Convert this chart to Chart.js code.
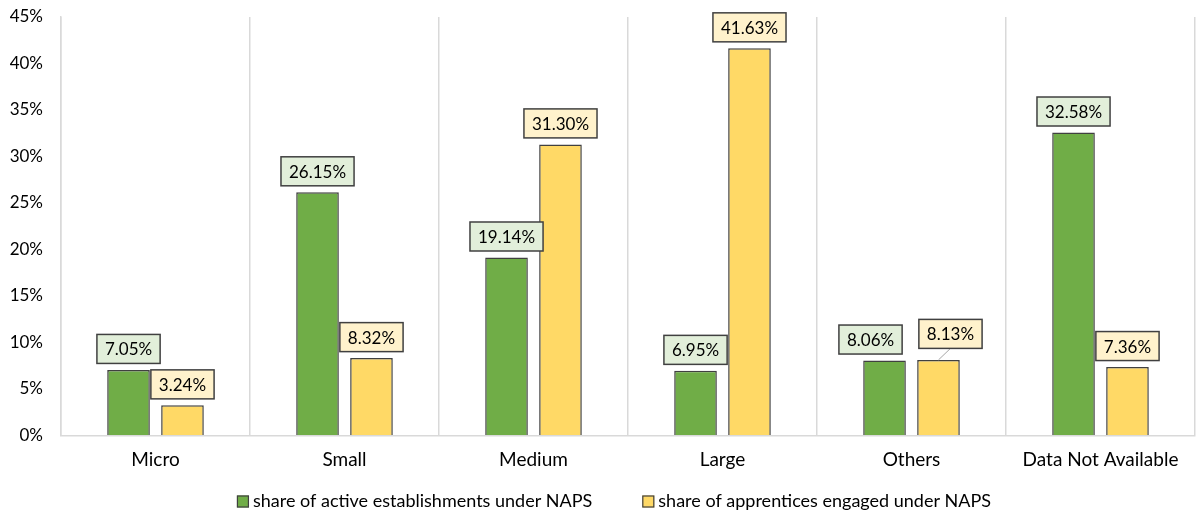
<!DOCTYPE html>
<html>
<head>
<meta charset="utf-8">
<script src="https://cdn.jsdelivr.net/npm/chart.js@4/dist/chart.umd.min.js"></script>
<style>
  html, body { margin: 0; padding: 0; background: #ffffff; }
  #wrap { width: 1197px; height: 514px; }
</style>
</head>
<body>
<div id="wrap"><canvas id="chart" width="1197" height="514"></canvas></div>
<script>
// Establishment size categories
const categories = ['Micro', 'Small', 'Medium', 'Large', 'Others', 'Data Not Available'];

// Share of active establishments under NAPS (%)
const establishmentsShare = [7.05, 26.15, 19.14, 6.95, 8.06, 32.58];

// Share of apprentices engaged under NAPS (%)
const apprenticesShare = [3.24, 8.32, 31.30, 41.63, 8.13, 7.36];

// Value axis ticks (%)
const yTicks = [0, 5, 10, 15, 20, 25, 30, 35, 40, 45];

const seriesNames = ['share of active establishments under NAPS', 'share of apprentices engaged under NAPS'];

// Manual nudges for value callouts that would otherwise crowd each other
const calloutShift = [
  [null, null, null, null, { dx: -14, dy: 0 }, null],
  [null, null, null, null, { dx: 12, dy: -5, leader: true }, null]
];

const FONT = 'Lato, "Open Sans", "DejaVu Sans", sans-serif';

// Boxed value labels above each bar
const calloutPlugin = {
  id: 'valueCallouts',
  afterDatasetsDraw(chart) {
    const ctx = chart.ctx;
    ctx.save();
    ctx.font = '17px ' + FONT;
    ctx.textAlign = 'center';
    ctx.textBaseline = 'middle';
    chart.data.datasets.forEach((ds, di) => {
      const meta = chart.getDatasetMeta(di);
      meta.data.forEach((bar, i) => {
        const text = ds.data[i].toFixed(2) + '%';
        const shift = calloutShift[di][i] || { dx: 0, dy: 0 };
        const w = ctx.measureText(text).width + 16;
        const h = 29;
        const cx = bar.x + shift.dx;
        const bottom = bar.y - 6.5 + shift.dy;
        const top = bottom - h;
        if (shift.leader) {
          ctx.strokeStyle = '#a6a6a6';
          ctx.lineWidth = 1;
          ctx.beginPath();
          ctx.moveTo(cx, bottom);
          ctx.lineTo(bar.x, bar.y);
          ctx.stroke();
        }
        ctx.fillStyle = ds.calloutFill;
        ctx.fillRect(cx - w / 2, top, w, h);
        ctx.strokeStyle = '#404040';
        ctx.lineWidth = 1.5;
        ctx.strokeRect(cx - w / 2, top, w, h);
        ctx.fillStyle = '#000000';
        ctx.fillText(text, cx, top + h / 2 + 1);
      });
    });
    ctx.restore();
  }
};

// Series key below the category axis
const keyPlugin = {
  id: 'seriesKey',
  afterDraw(chart) {
    const ctx = chart.ctx;
    ctx.save();
    ctx.font = '18px ' + FONT;
    ctx.textBaseline = 'middle';
    ctx.textAlign = 'left';
    const sq = 12, gap = 4, between = 50;
    const items = chart.data.datasets.map(ds => ({
      text: ds.label, fill: ds.backgroundColor, w: ctx.measureText(ds.label).width
    }));
    const total = items.reduce((s, it) => s + sq + gap + it.w, 0) + between * (items.length - 1);
    let x = 614 - total / 2;
    const y = 501.5;
    items.forEach(it => {
      ctx.fillStyle = it.fill;
      ctx.fillRect(x, y - sq / 2, sq, sq);
      ctx.strokeStyle = '#404040';
      ctx.lineWidth = 1.2;
      ctx.strokeRect(x + 0.5, y - sq / 2 + 0.5, sq - 1, sq - 1);
      ctx.fillStyle = '#000000';
      ctx.fillText(it.text, x + sq + gap, y);
      x += sq + gap + it.w + between;
    });
    ctx.restore();
  }
};

new Chart(document.getElementById('chart'), {
  type: 'bar',
  data: {
    labels: categories,
    datasets: [
      {
        label: seriesNames[0],
        data: establishmentsShare,
        backgroundColor: '#70AD47',
        borderColor: '#404040',
        borderWidth: 1.5,
        calloutFill: '#E2EFDA',
        categoryPercentage: 0.571,
        barPercentage: 0.79
      },
      {
        label: seriesNames[1],
        data: apprenticesShare,
        backgroundColor: '#FFD966',
        borderColor: '#404040',
        borderWidth: 1.5,
        calloutFill: '#FFF2CC',
        categoryPercentage: 0.571,
        barPercentage: 0.79
      }
    ]
  },
  options: {
    responsive: false,
    devicePixelRatio: 1,
    animation: false,
    layout: { padding: { top: 17, right: 2, left: 0, bottom: 30 } },
    plugins: {
      legend: { display: false },
      tooltip: { enabled: false }
    },
    scales: {
      x: {
        grid: { display: true, color: '#d9d9d9', offset: true, drawTicks: false, lineWidth: 1.5 },
        border: { display: true, color: '#d9d9d9', width: 1.5 },
        ticks: { font: { family: FONT, size: 19 }, color: '#000000', padding: 13 },
        afterFit(scale) { scale.height = 48.5; }
      },
      y: {
        min: yTicks[0],
        max: yTicks[yTicks.length - 1],
        afterBuildTicks(scale) { scale.ticks = yTicks.map(v => ({ value: v })); },
        grid: {
          display: true,
          drawOnChartArea: false,
          color: 'rgba(0,0,0,0)',
          drawTicks: true,
          tickLength: 18,
          tickColor: 'rgba(0,0,0,0)'
        },
        border: { display: true, color: '#d9d9d9', width: 1.5 },
        ticks: {
          font: { family: FONT, size: 17 },
          color: '#000000',
          padding: 0,
          callback: v => v + '%'
        },
        afterFit(scale) { scale.width = 61; }
      }
    }
  },
  plugins: [calloutPlugin, keyPlugin]
});
</script>
</body>
</html>
